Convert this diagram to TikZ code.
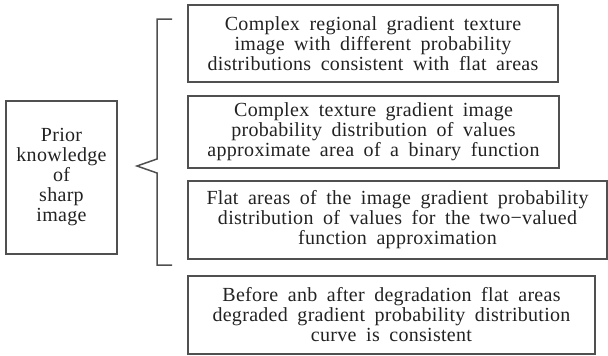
\documentclass[tikz,border=0pt]{standalone}
\usepackage{fontspec}
\setmainfont{Liberation Serif}[LetterSpace=1.5,WordSpace=1.8]
\definecolor{linegray}{HTML}{505050}
\definecolor{textgray}{HTML}{222222}

\tikzset{
  box/.style={draw=linegray, line width=1.5pt, inner sep=0pt, align=center,
    text=textgray, font=\fontsize{20}{20}\selectfont},
}

\begin{document}
\begin{tikzpicture}[x=1pt,y=-1pt]

  \useasboundingbox (0,0) rectangle (608,356);

  % --- Left box ---
  \node[box, minimum width=111pt, minimum height=153pt] (prior) at (61.5,177.5)
    {Prior\\knowledge\\of\\sharp\\image};

  % --- Right boxes ---
  \node[box, minimum width=370pt, minimum height=77pt] (flat) at (373,43.5)
    {Complex regional gradient texture\\image with different probability\\distributions consistent with flat areas};
  \node[box, minimum width=371pt, minimum height=72pt] (texture) at (373.5,132)
    {Complex texture gradient image\\probability distribution of values\\approximate area of a binary function};
  \node[box, minimum width=419pt, minimum height=78pt] (twovalued) at (397.5,220)
    {Flat areas of the image gradient probability\\distribution of values for the two\textminus valued\\function approximation};
  \node[box, minimum width=407pt, minimum height=78pt] (degraded) at (391.5,315)
    {Before anb after degradation flat areas\\degraded gradient probability distribution\\curve is consistent};

  % --- Brace ---
  \coordinate (tip) at (137,166);
  \draw[linegray, line width=1.5pt]
    (172,19) -- (157,19) -- (157,159) -- (tip) -- (157,173) -- (157,265) -- (172,265);

\end{tikzpicture}
\end{document}
